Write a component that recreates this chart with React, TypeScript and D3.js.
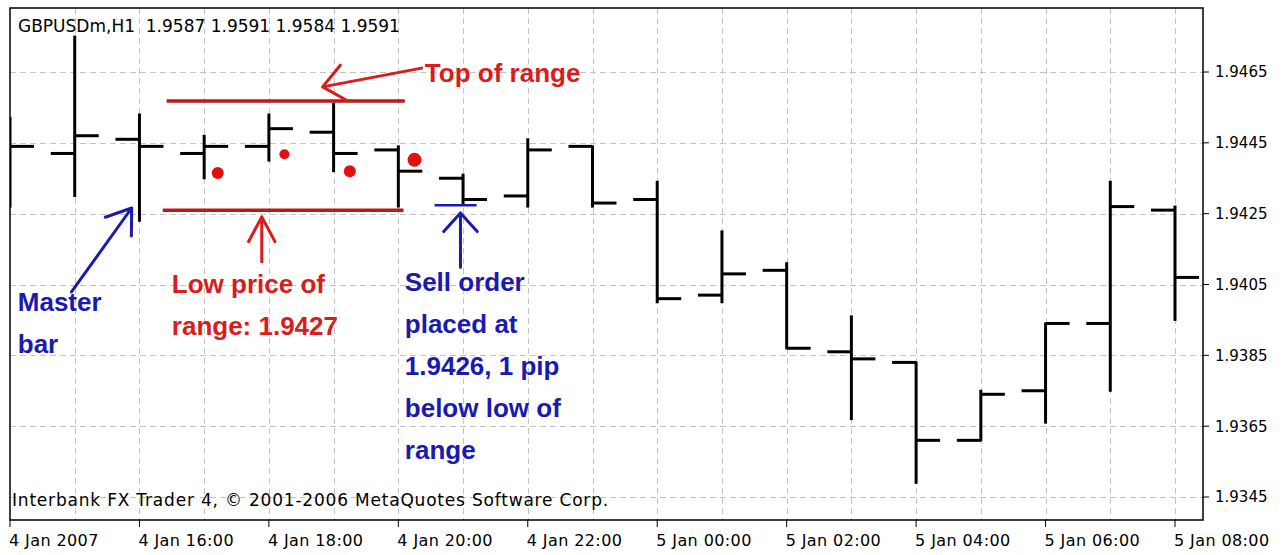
import * as d3 from "d3";
import { useEffect, useRef } from "react";

const WIDTH = 1287;
const HEIGHT = 555;
// plot frame (the black box), price axis sits to the right of it
const FRAME = { left: 10, top: 8, right: 1203, bottom: 520 };

// H1 bars, 4 Jan 2007 14:00 .. 5 Jan 2007 08:00
const times = [
  "4 Jan 14:00", "4 Jan 15:00", "4 Jan 16:00", "4 Jan 17:00", "4 Jan 18:00",
  "4 Jan 19:00", "4 Jan 20:00", "4 Jan 21:00", "4 Jan 22:00", "4 Jan 23:00",
  "5 Jan 00:00", "5 Jan 01:00", "5 Jan 02:00", "5 Jan 03:00", "5 Jan 04:00",
  "5 Jan 05:00", "5 Jan 06:00", "5 Jan 07:00", "5 Jan 08:00",
];
const open = [1.9446, 1.9442, 1.9446, 1.9442, 1.9444, 1.9448, 1.9443, 1.9435, 1.943, 1.9444, 1.9429, 1.9402, 1.9409, 1.9386, 1.9383, 1.9361, 1.9375, 1.9394, 1.9426];
const high = [1.9452, 1.9475, 1.9453, 1.9447, 1.9453, 1.9456, 1.9444, 1.9436, 1.9446, 1.9444, 1.9434, 1.942, 1.9411, 1.9396, 1.9383, 1.9375, 1.9394, 1.9434, 1.9427];
const low = [1.9427, 1.943, 1.9423, 1.9435, 1.944, 1.9437, 1.9427, 1.9428, 1.9427, 1.9427, 1.94, 1.94, 1.9387, 1.9367, 1.9349, 1.9361, 1.9366, 1.9375, 1.9395];
const close = [1.9444, 1.9447, 1.9444, 1.9444, 1.9449, 1.9442, 1.9437, 1.9429, 1.9443, 1.9428, 1.9401, 1.9408, 1.9387, 1.9384, 1.9361, 1.9374, 1.9394, 1.9427, 1.9407];

const xTickIndex = [0, 2, 4, 6, 8, 10, 12, 14, 16, 18];
const xTickLabels = [
  "4 Jan 2007", "4 Jan 16:00", "4 Jan 18:00", "4 Jan 20:00", "4 Jan 22:00",
  "5 Jan 00:00", "5 Jan 02:00", "5 Jan 04:00", "5 Jan 06:00", "5 Jan 08:00",
];
const yTicks = [1.9345, 1.9365, 1.9385, 1.9405, 1.9425, 1.9445, 1.9465];

const headerText = "GBPUSDm,H1  1.9587 1.9591 1.9584 1.9591";
const footerText = "Interbank FX Trader 4, \u00a9 2001-2006 MetaQuotes Software Corp.";

const RED = "#d91c1c";
const DARKRED = "#b81a1e";
const BLUE = "#1a1ab0";

// hand drawn annotations, in (bar index, price)
const rangeLines = [
  { from: 2.42, to: 6.1, price: 1.94568, color: DARKRED, w: 3.5 },
  { from: 2.36, to: 6.08, price: 1.9426, color: DARKRED, w: 3.5 },
  { from: 6.56, to: 7.21, price: 1.94274, color: BLUE, w: 2.5 },
];
const insideDots = [
  { i: 3.21, price: 1.94365, r: 6 },
  { i: 4.24, price: 1.94418, r: 5 },
  { i: 5.25, price: 1.9437, r: 6 },
  { i: 6.25, price: 1.94402, r: 7 },
];
const arrows = [
  { i1: 6.36, p1: 1.94661, i2: 4.83, p2: 1.94608, color: RED, len: 28, angle: 40 },
  { i1: 0.95, p1: 1.94029, i2: 1.88, p2: 1.94266, color: BLUE, len: 28, angle: 35 },
  { i1: 3.89, p1: 1.94114, i2: 3.89, p2: 1.94241, color: RED, len: 28, angle: 28 },
  { i1: 6.96, p1: 1.94099, i2: 6.96, p2: 1.94252, color: BLUE, len: 25, angle: 42 },
];
const notes = [
  { i: 6.41, price: 1.94622, color: RED, lines: ["Top of range"] },
  { i: 0.12, price: 1.93975, color: BLUE, lines: ["Master", "bar"] },
  { i: 2.5, price: 1.94026, color: RED, lines: ["Low price of", "range: 1.9427"] },
  { i: 6.1, price: 1.94032, color: BLUE, lines: ["Sell order", "placed at", "1.9426, 1 pip", "below low of", "range"] },
];

const App = () => {
  const ref = useRef<SVGSVGElement>(null);

  useEffect(() => {
    document.body.style.margin = "0";
    const svg = d3.select(ref.current);
    svg.selectAll("*").remove();

    const x = d3.scaleLinear().domain([0, 18]).range([10, 1175]);
    const y = d3.scaleLinear().domain([1.9345, 1.9465]).range([497, 72]);

    svg.append("rect").attr("width", WIDTH).attr("height", HEIGHT).attr("fill", "#fff");

    svg.append("defs").append("clipPath").attr("id", "plot-clip")
      .append("rect")
      .attr("x", FRAME.left).attr("y", FRAME.top)
      .attr("width", FRAME.right - FRAME.left).attr("height", FRAME.bottom - FRAME.top);

    // grid
    const grid = svg.append("g")
      .attr("stroke", "#c4c4c4").attr("stroke-width", 1).attr("stroke-dasharray", "6,4")
      .attr("shape-rendering", "crispEdges");
    grid.selectAll("line.h").data(yTicks).join("line")
      .attr("x1", FRAME.left).attr("x2", FRAME.right)
      .attr("y1", (d) => Math.round(y(d)) + 0.5).attr("y2", (d) => Math.round(y(d)) + 0.5);
    grid.selectAll("line.v").data(times.slice(1)).join("line")
      .attr("x1", (_, k) => Math.round(x(k + 1)) + 0.5).attr("x2", (_, k) => Math.round(x(k + 1)) + 0.5)
      .attr("y1", FRAME.top).attr("y2", FRAME.bottom);

    // OHLC bars
    const bars = times.map((t, i) => ({ t, i, o: open[i], h: high[i], l: low[i], c: close[i] }));
    const tick = 24;
    const g = svg.append("g").attr("clip-path", "url(#plot-clip)")
      .attr("stroke", "#000").attr("stroke-width", 3).attr("fill", "none");
    const bar = g.selectAll("g.bar").data(bars).join("g");
    bar.append("line")
      .attr("x1", (d) => x(d.i)).attr("x2", (d) => x(d.i))
      .attr("y1", (d) => y(d.h) - 1).attr("y2", (d) => y(d.l) + 1);
    bar.append("line")
      .attr("x1", (d) => x(d.i) - tick).attr("x2", (d) => x(d.i))
      .attr("y1", (d) => y(d.o)).attr("y2", (d) => y(d.o));
    bar.append("line")
      .attr("x1", (d) => x(d.i)).attr("x2", (d) => x(d.i) + tick)
      .attr("y1", (d) => y(d.c)).attr("y2", (d) => y(d.c));

    // frame
    svg.append("rect")
      .attr("x", FRAME.left).attr("y", FRAME.top)
      .attr("width", FRAME.right - FRAME.left).attr("height", FRAME.bottom - FRAME.top)
      .attr("fill", "none").attr("stroke", "#000").attr("stroke-width", 1.5);

    // price axis
    const yAxis = svg.append("g");
    yAxis.selectAll("line").data(yTicks).join("line")
      .attr("x1", FRAME.right).attr("x2", FRAME.right + 6)
      .attr("y1", (d) => y(d)).attr("y2", (d) => y(d))
      .attr("stroke", "#000").attr("stroke-width", 1);
    yAxis.selectAll("text").data(yTicks).join("text")
      .attr("x", FRAME.right + 12).attr("y", (d) => y(d))
      .attr("dy", "0.36em")
      .attr("font-family", "DejaVu Sans, sans-serif").attr("font-size", 15)
      .attr("fill", "#000")
      .text((d) => d3.format(".4f")(d));

    // time axis
    const xAxis = svg.append("g");
    xAxis.selectAll("line").data(xTickIndex).join("line")
      .attr("x1", (d) => x(d)).attr("x2", (d) => x(d))
      .attr("y1", FRAME.bottom).attr("y2", FRAME.bottom + 7)
      .attr("stroke", "#000").attr("stroke-width", 1);
    xAxis.selectAll("text").data(xTickIndex).join("text")
      .attr("x", (d) => x(d) - 1).attr("y", 546)
      .attr("font-family", "DejaVu Sans, sans-serif").attr("font-size", 16)
      .attr("letter-spacing", 0.4)
      .attr("fill", "#000")
      .text((_, k) => xTickLabels[k]);

    svg.append("text").attr("x", 18).attr("y", 32)
      .attr("font-family", "DejaVu Sans, sans-serif").attr("font-size", 17)
      .attr("xml:space", "preserve").style("white-space", "pre")
      .text(headerText);
    svg.append("text").attr("x", 12).attr("y", 506)
      .attr("font-family", "DejaVu Sans, sans-serif").attr("font-size", 17)
      .attr("letter-spacing", 0.8)
      .text(footerText);

    // annotations
    const ann = svg.append("g");
    ann.selectAll("line.range").data(rangeLines).join("line")
      .attr("x1", (d) => x(d.from)).attr("x2", (d) => x(d.to))
      .attr("y1", (d) => y(d.price)).attr("y2", (d) => y(d.price))
      .attr("stroke", (d) => d.color).attr("stroke-width", (d) => d.w);

    ann.selectAll("circle").data(insideDots).join("circle")
      .attr("cx", (d) => x(d.i)).attr("cy", (d) => y(d.price)).attr("r", (d) => d.r)
      .attr("fill", "#e01010");

    ann.selectAll("path.arrow").data(arrows).join("path")
      .attr("fill", "none").attr("stroke", (d) => d.color).attr("stroke-width", 3)
      .attr("stroke-linecap", "round").attr("stroke-linejoin", "round")
      .attr("d", (d) => {
        const tx = x(d.i2), ty = y(d.p2);
        const sx = x(d.i1), sy = y(d.p1);
        const back = Math.atan2(sy - ty, sx - tx);
        const a = (d.angle * Math.PI) / 180;
        const p = d3.path();
        p.moveTo(sx, sy);
        p.lineTo(tx, ty);
        p.moveTo(tx + d.len * Math.cos(back + a), ty + d.len * Math.sin(back + a));
        p.lineTo(tx, ty);
        p.lineTo(tx + d.len * Math.cos(back - a), ty + d.len * Math.sin(back - a));
        return p.toString();
      });

    const note = ann.selectAll("text.note").data(notes).join("text")
      .attr("x", (d) => x(d.i)).attr("y", (d) => y(d.price))
      .attr("fill", (d) => d.color)
      .attr("font-family", "Liberation Sans, Arial, sans-serif")
      .attr("font-weight", "bold").attr("font-size", 26);
    note.selectAll("tspan").data((d) => d.lines.map((s) => ({ s, x: x(d.i) }))).join("tspan")
      .attr("x", (d) => d.x).attr("dy", (_, k) => (k === 0 ? 0 : 42))
      .text((d) => d.s);
  }, []);

  return <svg ref={ref} width={WIDTH} height={HEIGHT} style={{ display: "block" }} />;
};

export default App;
